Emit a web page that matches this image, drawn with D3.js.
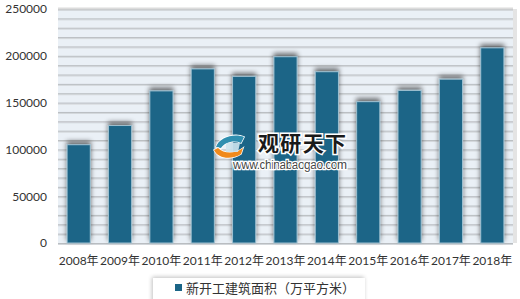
<!DOCTYPE html>
<html>
<head>
<meta charset="utf-8">
<script src="https://cdn.jsdelivr.net/npm/d3@7"></script>
<style>
  body { margin:0; background:#fff; }
  text { font-family: Lato, "Noto Sans CJK SC", sans-serif; }
</style>
</head>
<body>
<div class="canvas"></div>
<script>
const years = ["2008年","2009年","2010年","2011年","2012年","2013年","2014年","2015年","2016年","2017年","2018年"]
const area = [105000,125500,162500,186000,178000,199000,183000,151000,163000,175000,208500]
const yTicks = [0,50000,100000,150000,200000,250000]
const seriesName = "新开工建筑面积（万平方米）"

const dim = { width:520, height:299 }
const plot = { left:58, right:513, top:9, bottom:243 }

const svg = d3.select(".canvas").append("svg").attr("width",dim.width).attr("height",dim.height)
const defs = svg.append("defs")

const barShadow = defs.append("filter").attr("id","barShadow")
  .attr("x","-50%").attr("y","-20%").attr("width","200%").attr("height","140%")
barShadow.append("feGaussianBlur").attr("in","SourceAlpha").attr("stdDeviation",2.5).attr("result","b")
barShadow.append("feOffset").attr("in","b").attr("dx",0).attr("dy",-3).attr("result","o")
barShadow.append("feComponentTransfer").attr("in","o").attr("result","s")
  .append("feFuncA").attr("type","linear").attr("slope",0.55)
const m1 = barShadow.append("feMerge")
m1.append("feMergeNode").attr("in","s")
m1.append("feMergeNode").attr("in","SourceGraphic")

const boxShadow = defs.append("filter").attr("id","boxShadow")
  .attr("x","-10%").attr("y","-30%").attr("width","120%").attr("height","160%")
boxShadow.append("feGaussianBlur").attr("in","SourceAlpha").attr("stdDeviation",2).attr("result","b")
boxShadow.append("feOffset").attr("in","b").attr("dx",-1).attr("dy",-1).attr("result","o")
boxShadow.append("feComponentTransfer").attr("in","o").attr("result","s")
  .append("feFuncA").attr("type","linear").attr("slope",0.25)
const m2 = boxShadow.append("feMerge")
m2.append("feMergeNode").attr("in","s")
m2.append("feMergeNode").attr("in","SourceGraphic")

const x = d3.scaleBand().domain(years).range([plot.left,plot.right]).paddingInner(0.44).paddingOuter(0.22)
const y = d3.scaleLinear().domain([0,250000]).range([plot.bottom,plot.top])

// plot background
svg.append("rect")
  .attr("x",plot.left).attr("y",plot.top)
  .attr("width",plot.right-plot.left).attr("height",plot.bottom-plot.top)
  .attr("fill","#eaf0f6")
svg.append("rect")
  .attr("x",plot.right).attr("y",plot.top).attr("width",4).attr("height",plot.bottom-plot.top)
  .attr("fill","#d8d8d8").attr("opacity",0.7)

// grid lines every 10000 with a soft shadow line under each
const gridVals = d3.range(0,250001,10000)
const grid = svg.append("g")
grid.selectAll(".gs").data(gridVals).enter().append("line")
  .attr("x1",plot.left).attr("x2",plot.right)
  .attr("y1",d=>y(d)+1.5).attr("y2",d=>y(d)+1.5)
  .attr("stroke","#d3d7db").attr("stroke-width",1)
grid.selectAll(".gl").data(gridVals).enter().append("line")
  .attr("x1",plot.left).attr("x2",plot.right)
  .attr("y1",d=>y(d)+0.5).attr("y2",d=>y(d)+0.5)
  .attr("stroke","#b9bdc1").attr("stroke-width",1)
svg.append("line")
  .attr("x1",plot.left).attr("x2",plot.right)
  .attr("y1",plot.top-0.5).attr("y2",plot.top-0.5)
  .attr("stroke","#dcdcdc").attr("stroke-width",2)

// bars
svg.append("g").selectAll("rect").data(area).enter().append("rect")
  .attr("x",(d,i)=>x(years[i]))
  .attr("y",d=>y(d))
  .attr("width",x.bandwidth())
  .attr("height",d=>y(0)-y(d))
  .attr("fill","#1b6587")
  .attr("stroke","#9fc0d0").attr("stroke-width",1)
  .attr("filter","url(#barShadow)")

// axes
const yAxis = svg.append("g").attr("transform",`translate(${plot.left-11},0)`)
  .call(d3.axisLeft(y).tickValues(yTicks).tickSize(0).tickPadding(0).tickFormat(d3.format("d")))
yAxis.select(".domain").remove()
yAxis.selectAll("text").attr("font-size",12).attr("fill","#333").style("font-family","Lato, sans-serif")

const xAxis = svg.append("g").attr("transform",`translate(0,${plot.bottom+13})`)
  .call(d3.axisBottom(x).tickSize(0).tickPadding(0))
xAxis.select(".domain").remove()
xAxis.selectAll("text").attr("font-size",12).attr("fill","#333").attr("dy","0.71em")

// watermark
const wm = svg.append("g").attr("transform","translate(213,134)")
wm.append("path").attr("d","M3,13 C6,3 22,-1 31,3 L28,9 C21,6 12,8 8,14 Z")
  .attr("fill","#2f8fb0").attr("stroke","#fff").attr("stroke-width",1.5).style("paint-order","stroke")
wm.append("path").attr("d","M1,16 C5,25 19,26 28,20 L30,14 C22,20 11,20 5,14 Z")
  .attr("fill","#f08a1c").attr("stroke","#fff").attr("stroke-width",1.5).style("paint-order","stroke")
wm.append("path").attr("d","M13,9 L27,9 L25,18 L13,18 Z").attr("fill","#cde4ee").attr("opacity",0.9)
wm.append("text").attr("x",45).attr("y",17).attr("font-size",21).attr("font-weight","bold")
  .attr("textLength",88)
  .attr("fill","#1a1a1a").attr("stroke","#fff").attr("stroke-width",3).style("paint-order","stroke")
  .style("font-family","'Noto Sans CJK SC', sans-serif").text("观研天下")
wm.append("text").attr("x",20).attr("y",35).attr("font-size",12).attr("textLength",114)
  .attr("fill","#444").attr("stroke","#fff").attr("stroke-width",2.5).style("paint-order","stroke")
  .style("font-family","'Liberation Sans', Arial, sans-serif").text("www.chinabaogao.com")

// legend
const lg = svg.append("g")
lg.append("rect").attr("x",153).attr("y",278).attr("width",212).attr("height",30)
  .attr("fill","#fff").attr("filter","url(#boxShadow)")
lg.append("rect").attr("x",175).attr("y",284).attr("width",7).attr("height",7).attr("fill","#1b6587")
lg.append("text").attr("x",186).attr("y",293).attr("font-size",13).attr("fill","#333")
  .style("font-family","'Noto Sans CJK SC', sans-serif").text(seriesName)
</script>
</body>
</html>
